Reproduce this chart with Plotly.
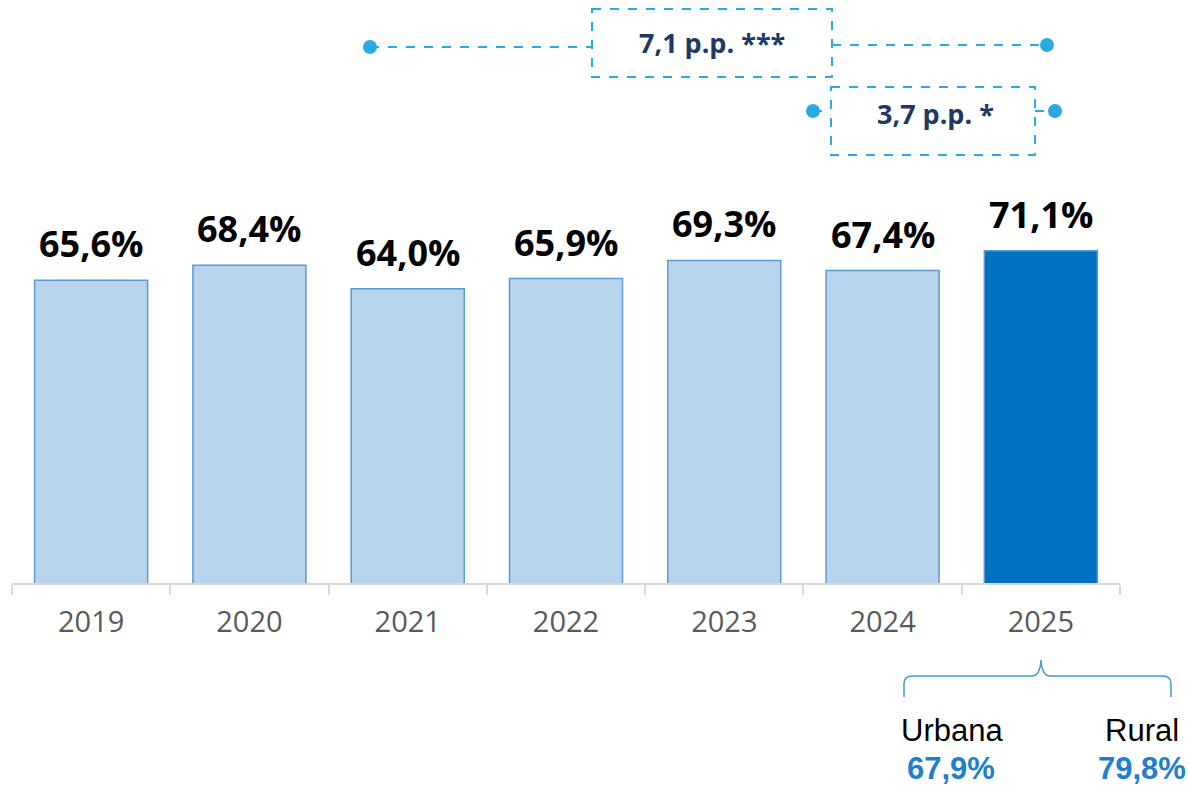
import plotly.graph_objects as go

# ---- data ----
years = ["2019", "2020", "2021", "2022", "2023", "2024", "2025"]
values = [65.6, 68.4, 64.0, 65.9, 69.3, 67.4, 71.1]
diff_labels = ["7,1 p.p. ***", "3,7 p.p. *"]
area_names = ["Urbana", "Rural"]
area_values = [67.9, 79.8]

# ---- layout constants (pixels) ----
W, H = 1188, 785
L, R, T, B = 12, 68, 170, 202
PW, PH = W - L - R, H - T - B
Y0 = 583  # pixel of plot bottom
YMIN = 9.0
PX_PER_UNIT = 5.35
YMAX = YMIN + PH / PX_PER_UNIT


def px(x):
    return (x - L) / PW


def py(y):
    return (Y0 - y) / PH


def fmt(v):
    return f"{v:.1f}".replace(".", ",") + "%"


light = "#B8D3EC"
dark = "#0070C0"
edge = "#5B9BD5"
colors = [light] * (len(years) - 1) + [dark]

fig = go.Figure(
    go.Bar(
        x=years,
        y=values,
        marker=dict(color=colors, line=dict(color=edge, width=1.5)),
        hoverinfo="skip",
    )
)

annotations = []
for i, v in enumerate(values):
    annotations.append(
        dict(
            x=i, y=v, xref="x", yref="y", text=fmt(v), showarrow=False,
            xanchor="center", yanchor="bottom", yshift=10,
            font=dict(family="Open Sans", size=36, color="#000000", weight="bold"),
        )
    )

shapes = []
ann_blue = "#29ABE2"
navy = "#203864"


def line(x0, y0, x1, y1, dash="dash", color=ann_blue, width=2):
    shapes.append(dict(type="line", xref="paper", yref="paper",
                       x0=px(x0), y0=py(y0), x1=px(x1), y1=py(y1),
                       line=dict(color=color, width=width, dash=dash)))


def rect(x0, y0, x1, y1):
    shapes.append(dict(type="rect", xref="paper", yref="paper",
                       x0=px(x0), y0=py(y0), x1=px(x1), y1=py(y1),
                       line=dict(color=ann_blue, width=2, dash="dash"),
                       fillcolor="rgba(0,0,0,0)"))


def dot(cx, cy, r=7):
    shapes.append(dict(type="circle", xref="paper", yref="paper",
                       x0=px(cx - r), y0=py(cy - r), x1=px(cx + r), y1=py(cy + r),
                       line=dict(color=ann_blue, width=0), fillcolor=ann_blue))


def label(x, y, text, size, color, bold=False, xanchor="center", family="Open Sans"):
    annotations.append(dict(
        xref="paper", yref="paper", x=px(x), y=py(y), text=text, showarrow=False,
        xanchor=xanchor, yanchor="middle",
        font=dict(family=family, size=size, color=color,
                  weight="bold" if bold else "normal")))


# comparison 2019 vs 2025 (box 1)
line(370, 47, 592, 47)
rect(592, 9, 832, 77)
line(832, 45, 1047, 45)
dot(370, 47)
dot(1047, 45)
label(712, 43, diff_labels[0], 27, navy, bold=True)
# comparison 2024 vs 2025 (box 2)
line(813, 111, 831, 111)
rect(831, 87, 1035, 155)
line(1035, 111, 1055, 111)
dot(813, 111)
dot(1055, 111)
label(935, 114, diff_labels[1], 27, navy, bold=True)

# curly brace under 2025
path = (
    f"M {px(904)},{py(697)} "
    f"L {px(904)},{py(684)} "
    f"Q {px(904)},{py(676)} {px(912)},{py(676)} "
    f"L {px(1032)},{py(676)} "
    f"Q {px(1040)},{py(676)} {px(1041)},{py(660)} "
    f"Q {px(1042)},{py(676)} {px(1050)},{py(676)} "
    f"L {px(1163)},{py(676)} "
    f"Q {px(1171)},{py(676)} {px(1171)},{py(684)} "
    f"L {px(1171)},{py(697)}"
)
shapes.append(dict(type="path", xref="paper", yref="paper", path=path,
                   line=dict(color="#3D9CCB", width=1.5)))

# Urbana / Rural labels
label(899, 730, area_names[0], 31, "#000000", xanchor="left", family="Liberation Sans")
label(951, 768, fmt(area_values[0]), 31, "#1F7FCC", bold=True, family="Liberation Sans")
label(1181, 730, area_names[1], 31, "#000000", xanchor="right", family="Liberation Sans")
label(1142, 768, fmt(area_values[1]), 31, "#1F7FCC", bold=True, family="Liberation Sans")

fig.update_layout(
    width=W, height=H,
    margin=dict(l=L, r=R, t=T, b=B, autoexpand=False),
    paper_bgcolor="white", plot_bgcolor="white",
    bargap=0.286,
    showlegend=False,
    annotations=annotations,
    shapes=shapes,
    xaxis=dict(
        type="category",
        range=[-0.5, len(years) - 0.5],
        automargin=False,
        tickangle=0,
        showline=True, linecolor="#D9D9D9", linewidth=2,
        ticks="outside", tickson="boundaries", ticklen=10,
        tickcolor="#D9D9D9", tickwidth=2,
        ticklabelstandoff=12,
        showgrid=False, zeroline=False,
        tickfont=dict(family="Open Sans", size=29, color="#595959"),
    ),
    yaxis=dict(visible=False, range=[YMIN, YMAX], fixedrange=True),
)

fig.write_html(
    "out.html",
    config={"displayModeBar": False},
    post_script="document.body.style.margin='0';document.body.style.overflow='hidden';",
)
